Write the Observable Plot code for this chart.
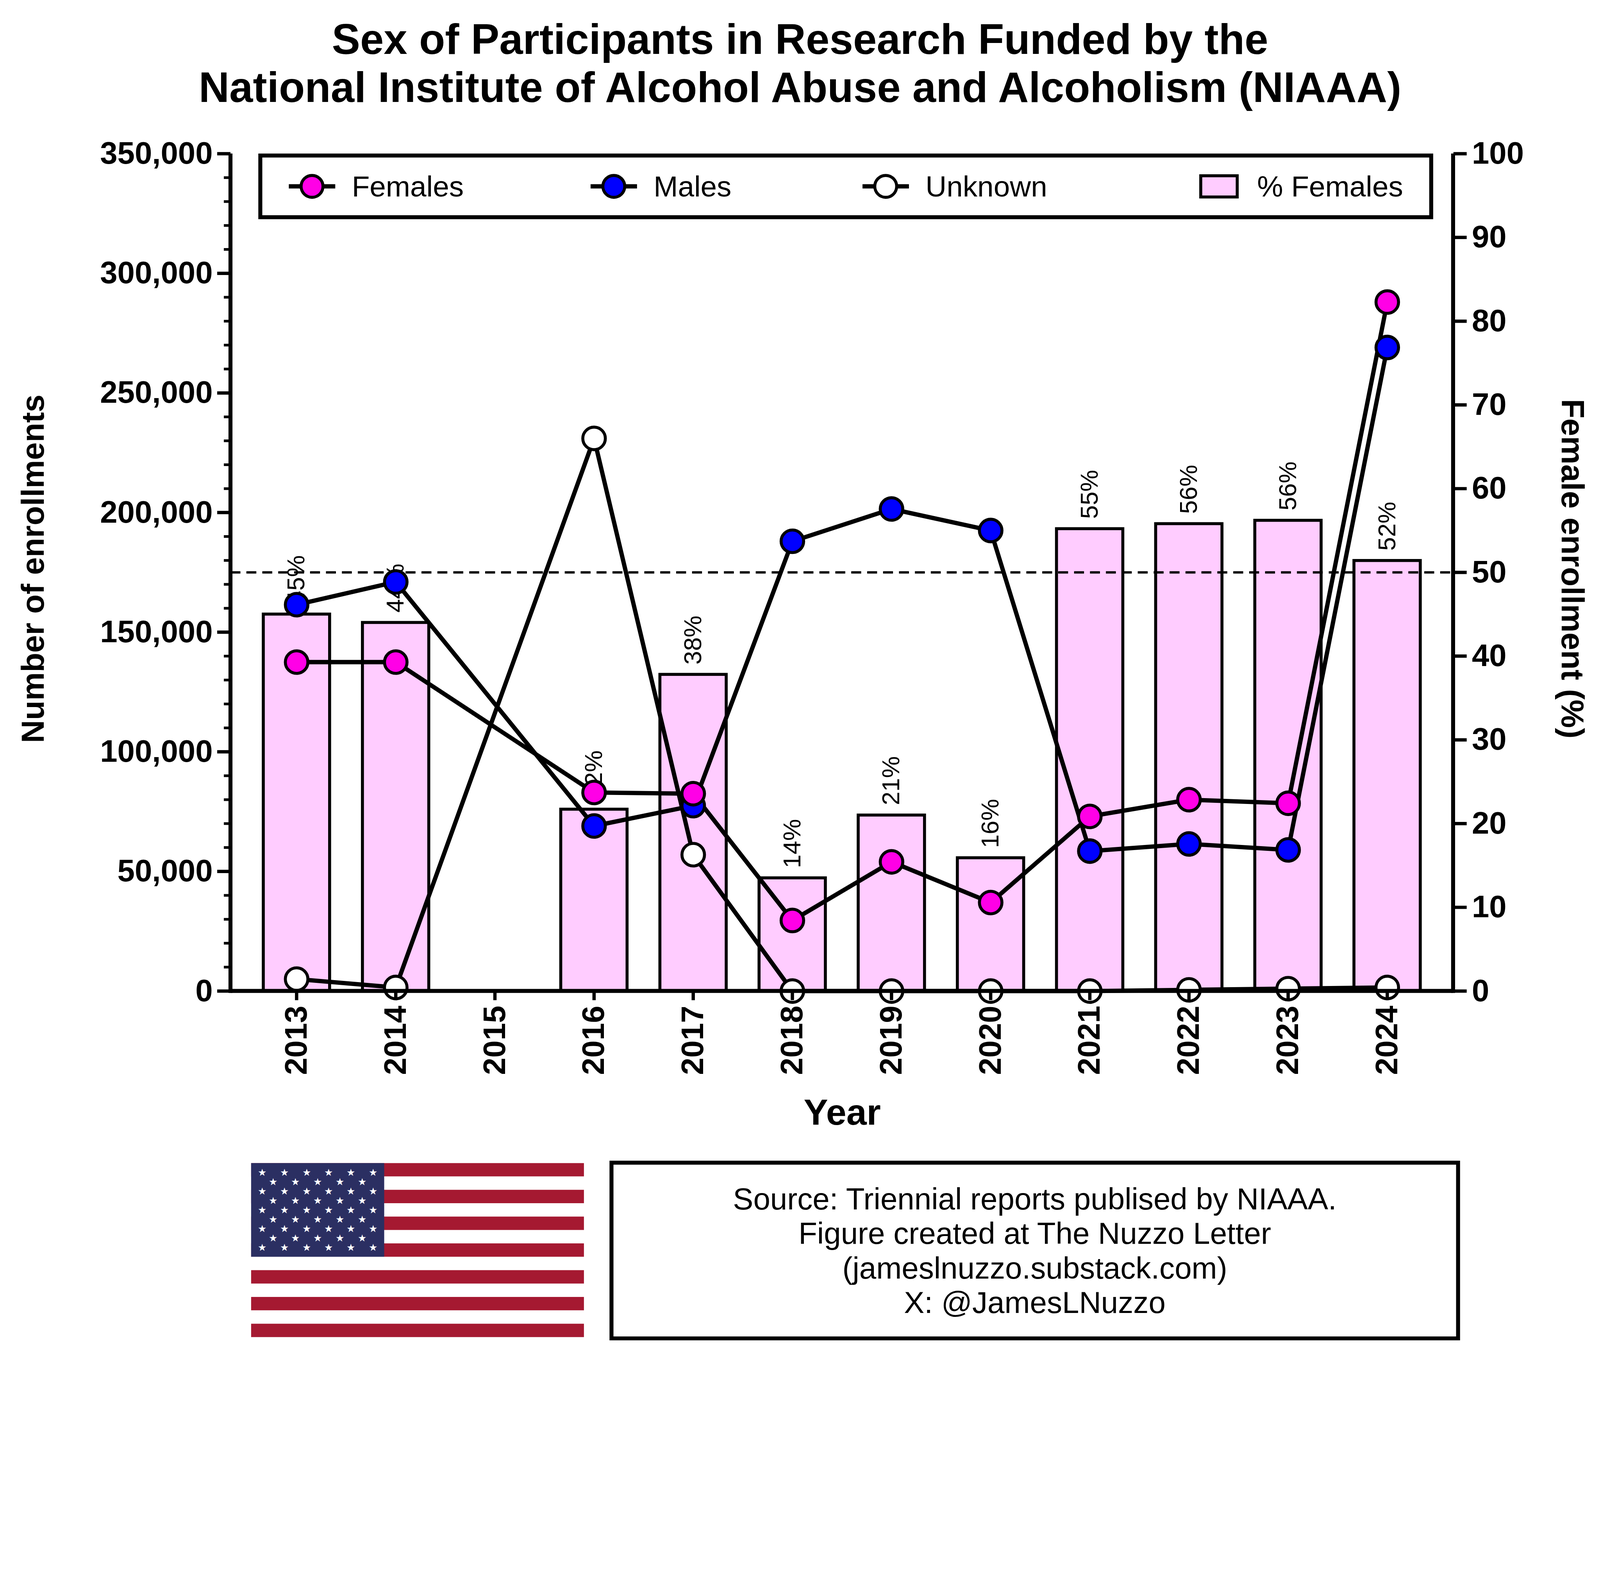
<!DOCTYPE html>
<html><head><meta charset="utf-8">
<script src="https://cdn.jsdelivr.net/npm/d3@7"></script>
<script src="https://cdn.jsdelivr.net/npm/@observablehq/plot@0.6"></script>
<style>
html,body{margin:0;padding:0;background:#fff;overflow:hidden}
#page{width:4825px;height:4042px;background:#fff;font-family:Arial,"Liberation Sans",sans-serif;position:relative;overflow:hidden;transform-origin:0 0}
.abs{position:absolute}
</style></head><body>
<div id="page">
<div class="abs" style="left:0;width:4825px;top:45px;text-align:center;font-weight:bold;font-size:128px;line-height:145px">Sex of Participants in Research Funded by the<br>National Institute of Alcohol Abuse and Alcoholism (NIAAA)</div>
<div id="chart" class="abs" style="left:0;top:400px"></div>
<div class="abs" style="left:99px;top:1715px;transform:translate(-50%,-50%) rotate(-90deg);font-weight:bold;font-size:96px;white-space:nowrap">Number of enrollments</div>
<div class="abs" style="left:4743px;top:1715px;transform:translate(-50%,-50%) rotate(90deg);font-weight:bold;font-size:96px;white-space:nowrap">Female enrollment (%)</div>
<div class="abs" style="left:2540px;top:3353px;transform:translate(-50%,-50%);font-weight:bold;font-size:110px">Year</div>
<div id="legend" class="abs" style="left:779px;top:463px;width:3519px;height:174px;border:12px solid #000;background:#fff"></div>
<div id="flag" class="abs" style="left:757px;top:3507px"></div>
<div class="abs" style="left:1838px;top:3500px;width:2541px;height:518px;border:12px solid #000;text-align:center;font-size:92px;line-height:104px;display:flex;flex-direction:column;justify-content:center">Source: Triennial reports publised by NIAAA.<br>Figure created at The Nuzzo Letter<br>(jameslnuzzo.substack.com)<br>X: @JamesLNuzzo</div>
</div>
<script>
const years = ["2013","2014","2015","2016","2017","2018","2019","2020","2021","2022","2023","2024"];
const pctFemales = [45,44,null,22,38,14,21,16,55,56,56,52];
const pctBars = [45,44,null,21.7,37.8,13.5,21,15.9,55.2,55.8,56.2,51.4];
const females = [137500,137500,null,83000,82500,29500,54000,37000,73000,80000,78500,288000];
const males = [161500,171000,null,69000,77500,188000,201500,192500,58500,61500,59000,269000];
const unknown = [5000,1500,null,231000,57000,0,0,0,0,500,1000,1500];
const K = 3500; // right axis % -> left axis units
const rows = years.map((y,i)=>({year:y,pct:pctBars[i],label:pctFemales[i],f:females[i],m:males[i],u:unknown[i]})).filter(d=>d.f!=null);

const W=4825,H=3050,mt=63,mb=462,ml=695,mr=443;
const font={fontSize:94,fontWeight:"bold",fontFamily:"Arial"};
const plot = Plot.plot({
  width:W,height:H,marginTop:mt,marginBottom:mb,marginLeft:ml,marginRight:mr,
  x:{type:"band",domain:years,padding:0.33,label:null},
  y:{domain:[0,350000],label:null},
  style:{fontFamily:"Arial",fontSize:"68px",background:"white",overflow:"visible"},
  marks:[
    Plot.barY(rows,{x:"year",y:d=>d.pct*K,fill:"#ffccff",stroke:"black",strokeWidth:9}),
    Plot.text(rows,{x:"year",y:d=>d.pct*K,text:d=>d.label+"%",rotate:-90,textAnchor:"start",dy:-30,fontSize:74,fill:"black"}),
    Plot.ruleY([50*K],{stroke:"black",strokeWidth:7,strokeDasharray:"30,18"}),
    Plot.lineY(rows,{x:"year",y:"u",stroke:"black",strokeWidth:13}),
    Plot.lineY(rows,{x:"year",y:"m",stroke:"black",strokeWidth:13}),
    Plot.lineY(rows,{x:"year",y:"f",stroke:"black",strokeWidth:13}),
    Plot.dot(rows,{x:"year",y:"u",r:34,fill:"white",stroke:"black",strokeWidth:9}),
    Plot.dot(rows,{x:"year",y:"m",r:34,fill:"#0000ff",stroke:"black",strokeWidth:9}),
    Plot.dot(rows,{x:"year",y:"f",r:34,fill:"#ff00e6",stroke:"black",strokeWidth:9}),
    Plot.axisY({ticks:d3.range(0,350001,10000),tickSize:20,tickFormat:()=>"",strokeWidth:8}),
    Plot.axisY({ticks:d3.range(0,350001,50000),tickSize:40,tickFormat:d3.format(","),tickPadding:14,strokeWidth:10,...font}),
    Plot.axisY({anchor:"right",ticks:d3.range(0,101,10).map(v=>v*K),tickSize:40,tickFormat:d=>d/K,tickPadding:16,strokeWidth:10,...font}),
    Plot.axisX({tickRotate:-90,tickSize:28,tickPadding:16,strokeWidth:10,...font})
  ]
});
const sv=d3.select(plot);
const g=sv.append("g").attr("stroke","black").attr("stroke-width",12);
g.append("line").attr("x1",ml).attr("x2",ml).attr("y1",mt).attr("y2",H-mb+6);
g.append("line").attr("x1",W-mr).attr("x2",W-mr).attr("y1",mt).attr("y2",H-mb+6);
g.append("line").attr("x1",ml).attr("x2",W-mr).attr("y1",H-mb).attr("y2",H-mb);
document.getElementById("chart").appendChild(plot);

// legend
const leg=[{n:"Females",c:"#ff00e6",t:"dot",x:80},{n:"Males",c:"#0000ff",t:"dot",x:990},{n:"Unknown",c:"white",t:"dot",x:1810},{n:"% Females",c:"#ffccff",t:"bar",x:2810}];
const ls=d3.select("#legend").append("svg").attr("width",3519).attr("height",174).style("font-family","Arial");
leg.forEach(l=>{
  if(l.t==="dot"){
    ls.append("line").attr("x1",l.x).attr("x2",l.x+140).attr("y1",87).attr("y2",87).attr("stroke","black").attr("stroke-width",13);
    ls.append("circle").attr("cx",l.x+70).attr("cy",87).attr("r",33).attr("fill",l.c).attr("stroke","black").attr("stroke-width",9);
  } else {
    ls.append("rect").attr("x",l.x+20).attr("y",55).attr("width",110).attr("height",64).attr("fill",l.c).attr("stroke","black").attr("stroke-width",9);
  }
  ls.append("text").attr("x",l.x+190).attr("y",87).attr("dy","0.35em").attr("font-size",88).text(l.n);
});

// flag
const fw=1004,fh=525,fs=d3.select("#flag").append("svg").attr("width",fw).attr("height",fh);
for(let i=0;i<13;i++) fs.append("rect").attr("x",0).attr("y",i*fh/13).attr("width",fw).attr("height",fh/13+0.5).attr("fill",i%2?"#fff":"#a51931");
fs.append("rect").attr("width",fw*0.4).attr("height",fh*7/13).attr("fill","#2b2f62");
for(let r=0;r<9;r++){const n=r%2?5:6;for(let c=0;c<n;c++){
  fs.append("text").attr("x",(c+(r%2?1:0.5))*fw*0.4/6).attr("y",(r+1)*fh*7/13/10).attr("dy","0.35em").attr("text-anchor","middle").attr("fill","#fff").attr("font-size",30).text("★");}}

function fit(){
  const s=Math.min(window.innerWidth/4825, window.innerHeight/4042);
  document.getElementById("page").style.transform = s<0.999 ? `scale(${s})` : "none";
}
fit(); window.addEventListener("resize",fit);
</script></body></html>
